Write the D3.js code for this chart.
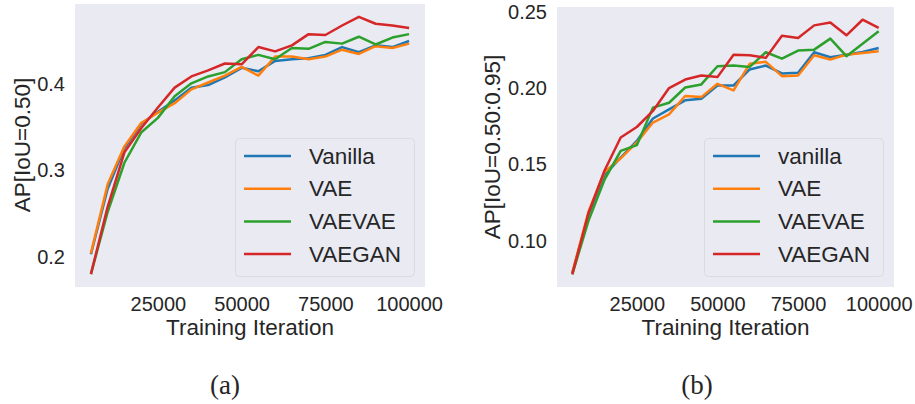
<!DOCTYPE html>
<html>
<head>
<meta charset="utf-8">
<script src="https://cdn.jsdelivr.net/npm/d3@7"></script>
<style>
  body { margin: 0; background: #fff; }
  text { font-family: "Liberation Sans", Arial, sans-serif; fill: #262626; }
</style>
</head>
<body>
<div id="visual"></div>
<script>
// training iterations (x) shared by both panels
var iterations = [5000, 10000, 15000, 20000, 25000, 30000, 35000, 40000, 45000, 50000,
  55000, 60000, 65000, 70000, 75000, 80000, 85000, 90000, 95000, 100000];
var xTicks = [25000, 50000, 75000, 100000];

// (a) AP[IoU=0.50]
var vanillaA = [.203, .279, .326, .354, .368, .381, .396, .399, .408, .419, .415, .427, .429, .430, .434, .443, .437, .445, .443, .450];
var vaeA     = [.204, .284, .328, .355, .367, .378, .394, .402, .410, .420, .410, .432, .432, .429, .432, .440, .435, .444, .442, .447];
var vaevaeA  = [.180, .252, .309, .344, .361, .386, .401, .409, .414, .429, .434, .429, .442, .441, .449, .447, .455, .446, .454, .458];
var vaeganA  = [.180, .258, .321, .349, .373, .396, .409, .416, .424, .423, .443, .438, .445, .458, .457, .468, .478, .470, .468, .465];
var yTicksA = [0.2, 0.3, 0.4];
var labelsA = ["Vanilla", "VAE", "VAEVAE", "VAEGAN"];

// (b) AP[IoU=0.50:0.95]
var vanillaB = [.079, .117, .143, .1545, .1654, .1801, .1861, .1920, .1930, .2017, .2017, .2122, .2148, .2096, .2100, .2235, .2202, .2219, .2237, .2263];
var vaeB     = [.079, .119, .145, .1540, .1644, .1774, .1828, .1948, .1941, .2028, .1985, .2159, .2172, .2078, .2083, .2215, .2187, .2219, .2230, .2241];
var vaevaeB  = [.078, .113, .140, .1589, .1626, .1872, .1904, .2004, .2024, .2143, .2148, .2139, .2235, .2193, .2246, .2252, .2324, .2209, .2290, .2372];
var vaeganB  = [.078, .118, .146, .1676, .1745, .1850, .2000, .2056, .2083, .2072, .2219, .2215, .2198, .2343, .2328, .2411, .2430, .2346, .2448, .2394];
var yTicksB = [0.10, 0.15, 0.20, 0.25];
var labelsB = ["vanilla", "VAE", "VAEVAE", "VAEGAN"];

var colors = ["#1f77b4", "#ff7f0e", "#2ca02c", "#d62728"];

var svg = d3.select("#visual").append("svg")
  .attr("width", 915)
  .attr("height", 404);

// pad a domain by 5% on each side, like matplotlib does
function padded(ext) {
  var m = (ext[1] - ext[0]) * 0.05;
  return [ext[0] - m, ext[1] + m];
}

function drawPanel(opt) {
  var allY = d3.merge(opt.series);
  var x = d3.scaleLinear().domain(padded(d3.extent(iterations))).range([opt.left, opt.right]);
  var y = d3.scaleLinear().domain(padded(d3.extent(allY))).range([opt.bottom, opt.top]);

  var g = svg.append("g");

  g.append("rect")
    .attr("x", opt.left)
    .attr("y", opt.top)
    .attr("width", opt.right - opt.left)
    .attr("height", opt.bottom - opt.top)
    .attr("fill", "#eaeaf2");

  // axes without tick marks or domain lines (seaborn style)
  var xAxis = g.append("g")
    .attr("transform", "translate(0," + opt.bottom + ")")
    .call(d3.axisBottom(x).tickValues(xTicks).tickSize(0).tickPadding(10).tickFormat(d3.format("d")));
  var yAxis = g.append("g")
    .attr("transform", "translate(" + opt.left + ",0)")
    .call(d3.axisLeft(y).tickValues(opt.yTicks).tickSize(0).tickPadding(10).tickFormat(d3.format(opt.yFormat)));
  [xAxis, yAxis].forEach(function(a) {
    a.select(".domain").remove();
    a.selectAll("text")
      .attr("fill", "#262626")
      .style("font-size", "20px")
      .style("font-family", "'Liberation Sans', Arial, sans-serif");
  });

  var line = d3.line()
    .x(function(d, i) { return x(iterations[i]); })
    .y(function(d) { return y(d); });

  opt.series.forEach(function(s, i) {
    g.append("path")
      .datum(s)
      .attr("d", line)
      .attr("fill", "none")
      .attr("stroke", colors[i])
      .attr("stroke-width", 2.5)
      .attr("stroke-linejoin", "round");
  });

  // axis titles
  g.append("text")
    .attr("x", (opt.left + opt.right) / 2)
    .attr("y", 335)
    .attr("text-anchor", "middle")
    .style("font-size", "22.5px")
    .text("Training Iteration");

  g.append("text")
    .attr("transform", "translate(" + opt.yTitleX + "," + opt.yTitleY + ") rotate(-90)")
    .attr("text-anchor", "middle")
    .attr("dominant-baseline", "central")
    .style("font-size", "22.5px")
    .text(opt.yTitle);

  // legend, lower right
  var lw = 179, lh = 138;
  var lx = opt.right - 11 - lw, ly = opt.bottom - 11 - lh;
  var legend = g.append("g").attr("transform", "translate(" + lx + "," + ly + ")");
  legend.append("rect")
    .attr("x", 0.5).attr("y", 0.5)
    .attr("width", lw).attr("height", lh)
    .attr("rx", 4)
    .attr("fill", "#eaeaf2")
    .attr("fill-opacity", 0.8)
    .attr("stroke", "#dadae0");

  var rows = legend.selectAll(".legendRow")
    .data(opt.labels)
    .enter()
    .append("g")
    .attr("class", "legendRow")
    .attr("transform", function(d, i) { return "translate(0," + (18 + i * 32.7) + ")"; });

  rows.append("line")
    .attr("x1", 9).attr("x2", 56)
    .attr("stroke", function(d, i) { return colors[i]; })
    .attr("stroke-width", 2.5);

  rows.append("text")
    .attr("x", 74)
    .attr("dominant-baseline", "central")
    .style("font-size", "22.5px")
    .text(function(d) { return d; });

  // sub-figure caption
  svg.append("text")
    .attr("x", opt.captionX)
    .attr("y", 394)
    .attr("text-anchor", "middle")
    .style("font-family", "'Liberation Serif', 'DejaVu Serif', serif")
    .style("font-size", "27px")
    .text(opt.caption);
}

drawPanel({
  left: 75, right: 425, top: 4, bottom: 287,
  series: [vanillaA, vaeA, vaevaeA, vaeganA],
  labels: labelsA,
  yTicks: yTicksA, yFormat: ".1f",
  yTitle: "AP[IoU=0.50]", yTitleX: 22, yTitleY: 145,
  caption: "(a)", captionX: 225
});

drawPanel({
  left: 557, right: 894, top: 7, bottom: 287,
  series: [vanillaB, vaeB, vaevaeB, vaeganB],
  labels: labelsB,
  yTicks: yTicksB, yFormat: ".2f",
  yTitle: "AP[IoU=0.50:0.95]", yTitleX: 492, yTitleY: 147,
  caption: "(b)", captionX: 697
});
</script>
</body>
</html>
